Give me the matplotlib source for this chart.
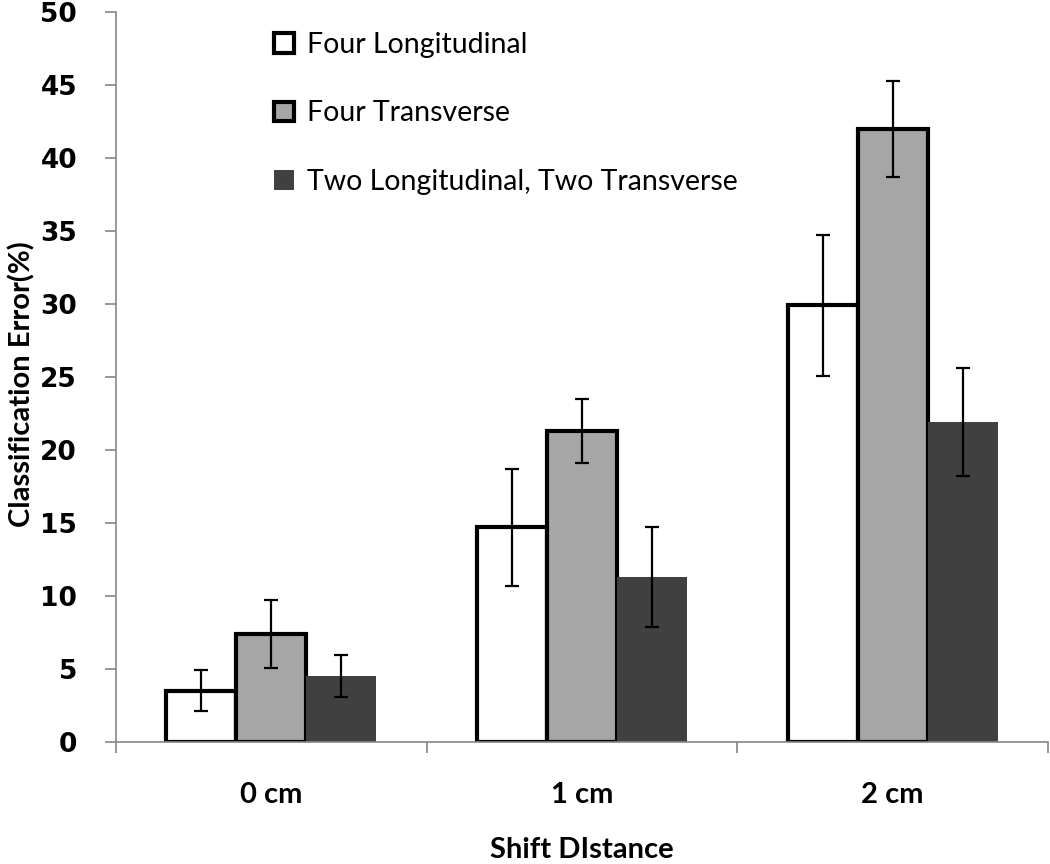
import matplotlib.pyplot as plt
import numpy as np

# values
categories = ["0 cm", "1 cm", "2 cm"]
series = ["Four Longitudinal", "Four Transverse", "Two Longitudinal, Two Transverse"]
four_long = [3.5, 14.7, 29.9]
four_long_err = [1.4, 4.0, 4.8]
four_trans = [7.4, 21.3, 42.0]
four_trans_err = [2.35, 2.2, 3.3]
two_two = [4.5, 11.3, 21.9]
two_two_err = [1.45, 3.45, 3.7]

axis_grey = "#868686"
narrow = ["Lato", "DejaVu Sans"]

fig = plt.figure(figsize=(10.5, 8.64), dpi=100)
ax = fig.add_axes([116/1050, 1-742/864, 932/1050, 730/864])

x = np.arange(len(categories))
w = 0.225
err_kw = dict(ecolor="black", elinewidth=1.6, capsize=5, capthick=1.6)

b1 = ax.bar(x - w, four_long, w, yerr=four_long_err, color="white",
            edgecolor="black", linewidth=3, label=series[0], error_kw=err_kw, zorder=2)
b2 = ax.bar(x, four_trans, w, yerr=four_trans_err, color="#a6a6a6",
            edgecolor="black", linewidth=3, label=series[1], error_kw=err_kw, zorder=2)
b3 = ax.bar(x + w, two_two, w, yerr=two_two_err, color="#404040",
            linewidth=0, label=series[2], error_kw=err_kw, zorder=2)

ax.set_xlim(-0.5, 2.5)
ax.set_ylim(0, 50)
ax.set_yticks(np.arange(0, 51, 5))

# category boundary ticks, labels on minor ticks at the centres
ax.set_xticks([-0.5, 0.5, 1.5, 2.5])
ax.set_xticklabels([])
ax.set_xticks(x, minor=True)
ax.set_xticklabels(categories, minor=True, fontsize=21, fontweight="bold", family=narrow)
ax.tick_params(axis="x", which="major", length=8, width=1.2, color=axis_grey, direction="out")
ax.tick_params(axis="x", which="minor", length=0, pad=29)
ax.tick_params(axis="y", length=8, width=1.2, color=axis_grey, direction="out", pad=20)
for lab in ax.get_yticklabels():
    lab.set_fontsize(19)
    lab.set_fontweight("bold")

for s in ["top", "right"]:
    ax.spines[s].set_visible(False)
for s in ["left", "bottom"]:
    ax.spines[s].set_color(axis_grey)
    ax.spines[s].set_linewidth(1.2)

ax.set_ylabel("Classification Error(%)", fontsize=21, fontweight="bold", family=narrow)
ax.yaxis.set_label_coords(-0.086, 0.49)
ax.set_xlabel("Shift DIstance", fontsize=21, fontweight="bold", family=narrow)
ax.xaxis.set_label_coords(0.5, -0.13)

ax.legend(handles=[b1, b2, b3], loc="upper left", bbox_to_anchor=(0.142, 1.008),
          frameon=False, handlelength=0.7, handleheight=0.7, handletextpad=0.45,
          labelspacing=1.5, prop={"family": narrow, "size": 20.5})

fig.savefig("out.png", dpi=100)
